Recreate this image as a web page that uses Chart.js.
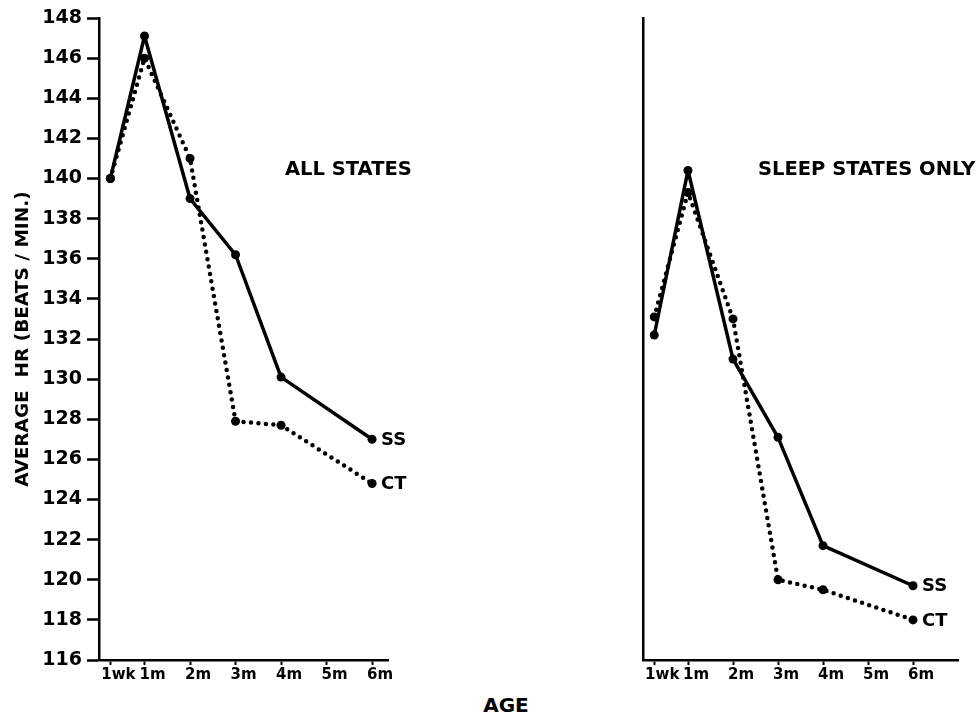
<!DOCTYPE html>
<html>
<head>
<meta charset="utf-8">
<script src="https://cdn.jsdelivr.net/npm/chart.js@4.4.1/dist/chart.umd.min.js"></script>
<style>
  html, body { margin: 0; padding: 0; background: #fff; }
  body { width: 980px; height: 717px; position: relative; overflow: hidden; font-family: "DejaVu Sans", sans-serif; }
  .panel { position: absolute; top: 0; width: 440px; height: 717px; }
  #age { position: absolute; left: 506px; top: 695px; transform: translateX(-50%); font-size: 20px; font-weight: bold; line-height: 20px; color: #000; white-space: nowrap; }
</style>
</head>
<body>
<div class="panel" style="left:0"><canvas id="allStates" width="440" height="717"></canvas></div>
<div class="panel" style="left:540px"><canvas id="sleepStates" width="440" height="717"></canvas></div>
<div id="age">AGE</div>
<script>
// Age of each measurement, in months (1 week = 0.25 month)
const ageMonths = [0.25, 1, 2, 3, 4, 6];

// Axis ticks
const xTickValues = [0.25, 1, 2, 3, 4, 5, 6];
const xTickLabels = ['1wk', '1m', '2m', '3m', '4m', '5m', '6m'];
const yTickValues = [116, 118, 120, 122, 124, 126, 128, 130, 132, 134, 136, 138, 140, 142, 144, 146, 148];

// Average heart rate (beats / min.), all states
const allStatesSS = [140.0, 147.1, 139.0, 136.2, 130.1, 127.0];
const allStatesCT = [140.0, 146.0, 141.0, 127.9, 127.7, 124.8];

// Average heart rate (beats / min.), sleep states only
const sleepStatesSS = [132.2, 140.4, 131.0, 127.1, 121.7, 119.7];
const sleepStatesCT = [133.1, 139.3, 133.0, 120.0, 119.5, 118.0];

const FONT = '"DejaVu Sans", sans-serif';

function series(label, values, dotted) {
  return {
    label: label,
    data: values.map((v, i) => ({ x: ageMonths[i], y: v })),
    borderColor: '#000',
    backgroundColor: '#000',
    borderWidth: dotted ? 4.5 : 3.5,
    borderDash: dotted ? [0, 7.5] : [],
    borderCapStyle: dotted ? 'round' : 'butt',
    borderJoinStyle: 'round',
    pointRadius: 4.5,
    pointHoverRadius: 4.5,
    pointBorderWidth: 0,
    pointBackgroundColor: '#000',
    tension: 0,
    clip: false
  };
}

// Panel heading and series names beside the last point of each line
const panelText = {
  id: 'panelText',
  afterDatasetsDraw(chart, args, opts) {
    const ctx = chart.ctx;
    ctx.save();
    ctx.fillStyle = '#000';
    ctx.textBaseline = 'middle';
    ctx.textAlign = 'left';
    ctx.font = 'bold 19.5px ' + FONT;
    ctx.fillText(opts.title, opts.titleX, opts.titleY);
    ctx.font = 'bold 18px ' + FONT;
    chart.data.datasets.forEach((ds, i) => {
      const pts = chart.getDatasetMeta(i).data;
      const last = pts[pts.length - 1];
      ctx.fillText(ds.label, last.x + 9, last.y + 1);
    });
    ctx.restore();
  }
};

function xScale(max) {
  return {
    type: 'linear',
    min: 0,
    max: max,
    afterBuildTicks: s => { s.ticks = xTickValues.map(v => ({ value: v })); },
    afterFit: s => { s.height = 30; s.paddingLeft = 0; s.paddingRight = 0; },
    ticks: {
      callback: v => xTickLabels[xTickValues.indexOf(v)],
      font: { family: FONT, size: 15, weight: 'bold' },
      color: '#000',
      padding: 1,
      labelOffset: 8,
      maxRotation: 0,
      autoSkip: false
    },
    grid: { drawOnChartArea: false, drawTicks: true, tickLength: 5, tickWidth: 2, tickColor: '#000' },
    border: { display: true, color: '#000', width: 2.5 }
  };
}

function baseOptions(title, titleX, xMax, yScale, padRight) {
  return {
    responsive: false,
    animation: false,
    events: [],
    layout: { padding: { left: 0, top: 18, right: padRight, bottom: 27 } },
    plugins: {
      legend: { display: false },
      tooltip: { enabled: false },
      panelText: { title: title, titleX: titleX, titleY: 170 }
    },
    scales: { x: xScale(xMax), y: yScale }
  };
}

const yLeft = {
  type: 'linear',
  min: 116,
  max: 148,
  afterBuildTicks: s => { s.ticks = yTickValues.map(v => ({ value: v })); },
  afterFit: s => { s.width = 99; s.paddingTop = 0; s.paddingBottom = 0; },
  ticks: { font: { family: FONT, size: 19, weight: 'bold' }, color: '#000', padding: 5, autoSkip: false },
  grid: { drawOnChartArea: false, tickLength: 12, tickWidth: 2.5, tickColor: '#000' },
  border: { display: true, color: '#000', width: 2.5 },
  title: {
    display: true,
    text: 'AVERAGE  HR (BEATS / MIN.)',
    font: { family: FONT, size: 18.5, weight: 'bold' },
    color: '#000',
    padding: { top: 12, bottom: 0 }
  }
};

const yRight = {
  type: 'linear',
  min: 116,
  max: 148,
  afterFit: s => { s.width = 103; s.paddingTop = 0; s.paddingBottom = 0; },
  ticks: { display: false },
  grid: { drawOnChartArea: false, drawTicks: false },
  border: { display: true, color: '#000', width: 2.5 }
};

new Chart(document.getElementById('allStates'), {
  type: 'line',
  data: { datasets: [series('SS', allStatesSS, false), series('CT', allStatesCT, true)] },
  options: baseOptions('ALL STATES', 285, 6.35, yLeft, 52),
  plugins: [panelText]
});

new Chart(document.getElementById('sleepStates'), {
  type: 'line',
  data: { datasets: [series('SS', sleepStatesSS, false), series('CT', sleepStatesCT, true)] },
  options: baseOptions('SLEEP STATES ONLY', 218, 7, yRight, 22),
  plugins: [panelText]
});
</script>
</body>
</html>
